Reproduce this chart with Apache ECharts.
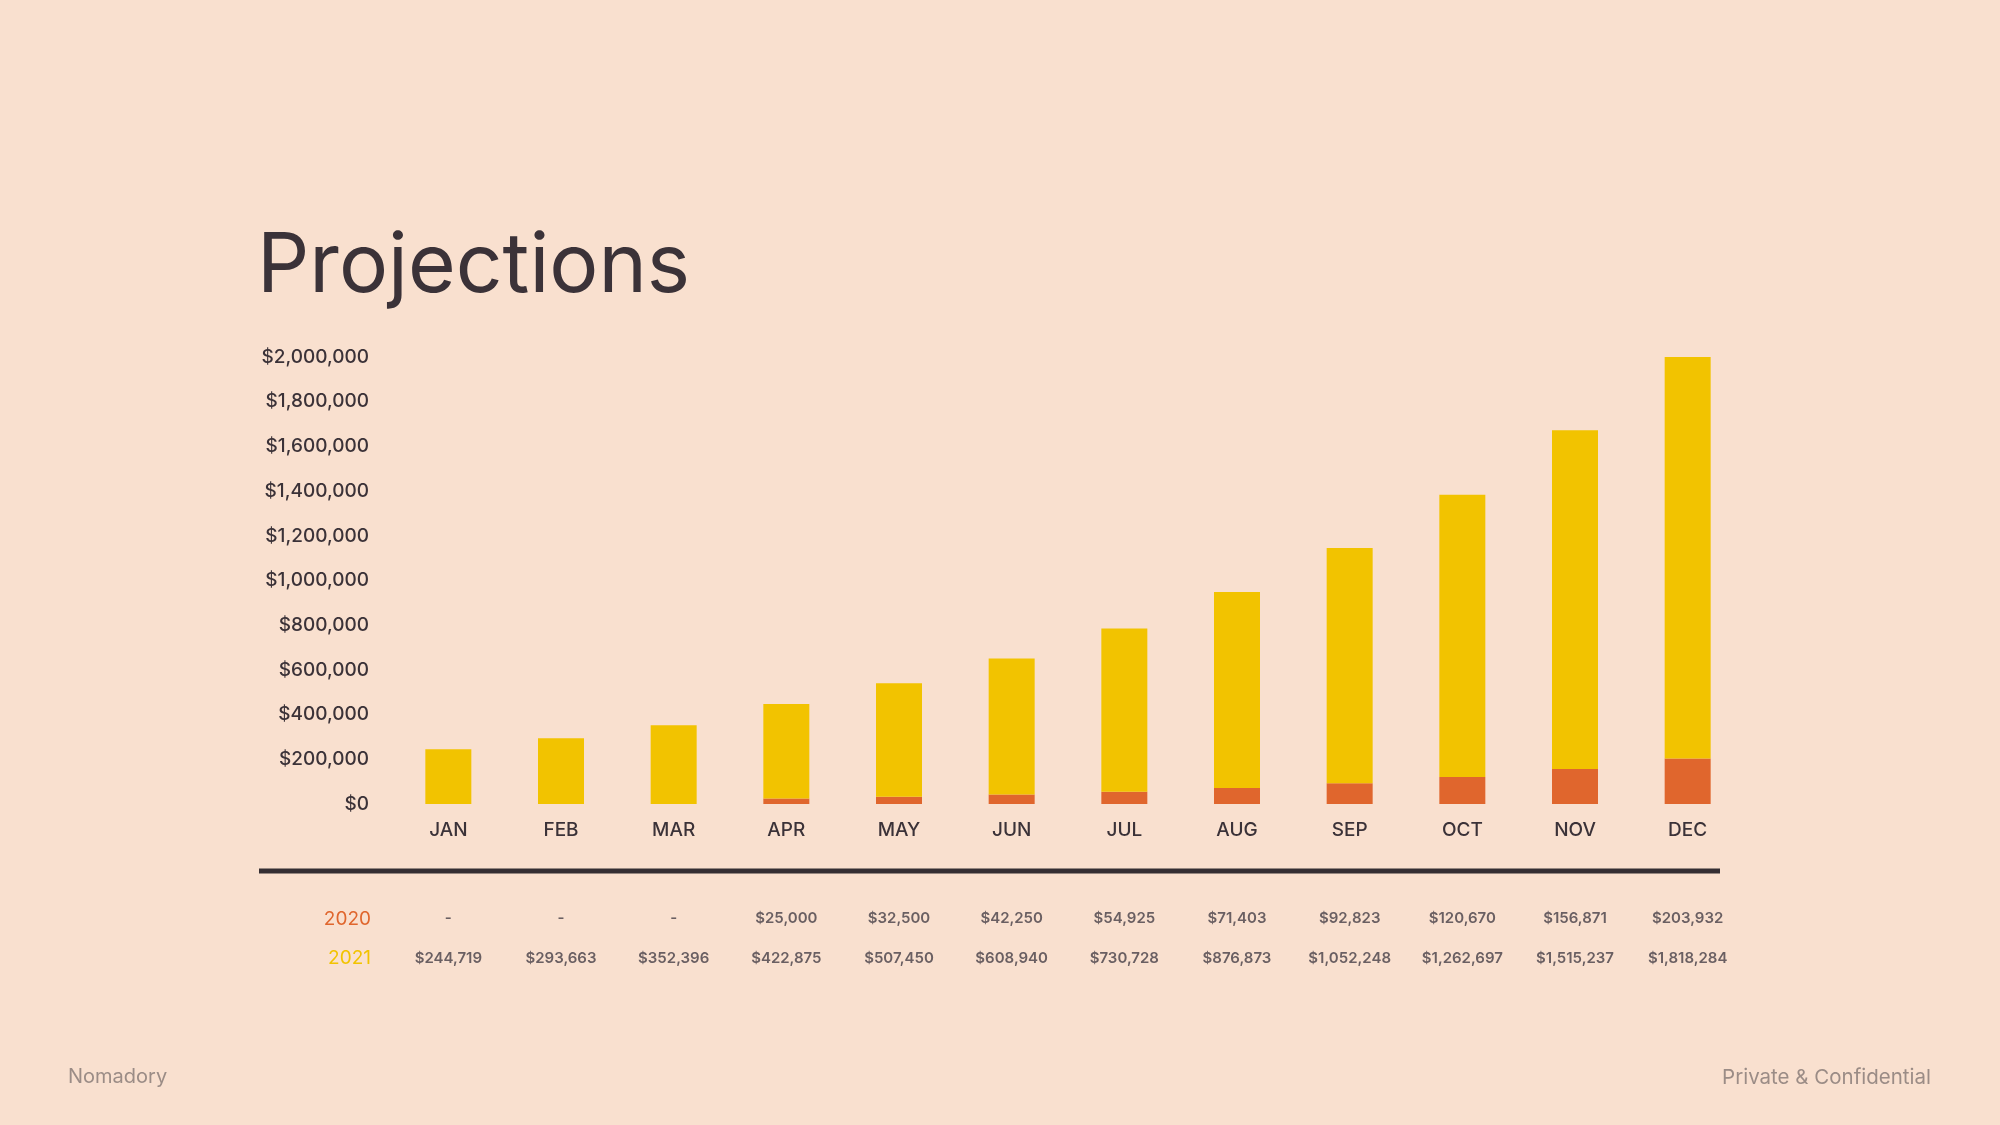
<!DOCTYPE html>
<html><head><meta charset="utf-8">
<script src="https://cdn.jsdelivr.net/npm/echarts@6/dist/echarts.min.js"></script>
<style>html,body{margin:0;padding:0;background:#f9e0cf;}#c{width:2000px;height:1125px;}</style>
</head><body><div id="c"></div>
<script>
const months = ['JAN','FEB','MAR','APR','MAY','JUN','JUL','AUG','SEP','OCT','NOV','DEC'];
const values2020 = [0, 0, 0, 25000, 32500, 42250, 54925, 71403, 92823, 120670, 156871, 203932];
const values2021 = [244719, 293663, 352396, 422875, 507450, 608940, 730728, 876873, 1052248, 1262697, 1515237, 1818284];
const yTicks = {min: 0, max: 2000000, interval: 200000};

const fmt = v => '$' + v.toLocaleString('en-US');
const row2020 = values2020.map(v => v === 0 ? '-' : fmt(v));
const row2021 = values2021.map(fmt);

const font = 'Inter, "Noto Sans", sans-serif';
const dark = '#3b3238';
const chart = echarts.init(document.getElementById('c'));
chart.setOption({
  backgroundColor: '#f9e0cf',
  animation: false,
  grid: {left: 392, width: 1352, top: 357, bottom: 321},
  xAxis: [
    {type: 'category', data: months, axisLine: {show: false}, axisTick: {show: false},
     axisLabel: {color: dark, fontFamily: font, fontSize: 19, fontWeight: 500, margin: 17}},
    {type: 'category', data: row2020, position: 'bottom', offset: 107, axisLine: {show: false}, axisTick: {show: false},
     axisLabel: {color: '#6a5f62', fontFamily: font, fontSize: 15, fontWeight: 600, margin: 0, interval: 0}},
    {type: 'category', data: row2021, position: 'bottom', offset: 147, axisLine: {show: false}, axisTick: {show: false},
     axisLabel: {color: '#6a5f62', fontFamily: font, fontSize: 15, fontWeight: 600, margin: 0, interval: 0}}
  ],
  yAxis: {type: 'value', min: yTicks.min, max: yTicks.max, interval: yTicks.interval,
    splitLine: {show: false}, axisLine: {show: false}, axisTick: {show: false},
    axisLabel: {color: dark, fontFamily: font, fontSize: 19, fontWeight: 500, margin: 23, formatter: fmt,
      padding: [4, 0, 0, 0]}},
  series: [
    {name: '2020', type: 'bar', stack: 'a', data: values2020, barWidth: 46, itemStyle: {color: '#e0662d'}},
    {name: '2021', type: 'bar', stack: 'a', data: values2021, barWidth: 46, itemStyle: {color: '#f2c300'}}
  ],
  graphic: [
    {type: 'text', left: 257, top: 226, style: {text: 'Projections', font: '400 82px ' + font, fill: dark}},
    {type: 'line', shape: {x1: 259, y1: 871, x2: 1720, y2: 871}, style: {stroke: '#352e33', lineWidth: 5}},
    {type: 'text', right: 2000 - 371, top: 910, style: {text: '2020', font: '400 19px ' + font, fill: '#e0662d', textAlign: 'right'}},
    {type: 'text', right: 2000 - 371, top: 949, style: {text: '2021', font: '400 19px ' + font, fill: '#f2c300', textAlign: 'right'}},
    {type: 'text', left: 68, top: 1067, style: {text: 'Nomadory', font: '400 20px ' + font, fill: '#9b8c86'}},
    {type: 'text', right: 69, top: 1067, style: {text: 'Private & Confidential', font: '400 20.5px ' + font, fill: '#9b8c86', textAlign: 'right'}}
  ]
});
</script></body></html>
